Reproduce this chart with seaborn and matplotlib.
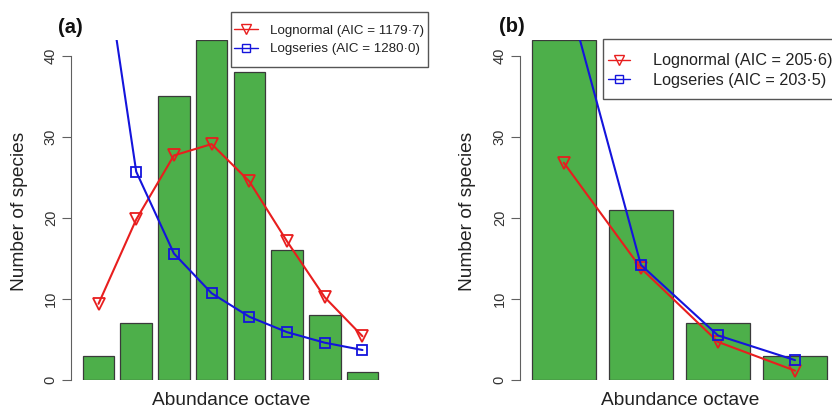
import numpy as np
import pandas as pd
import matplotlib
matplotlib.use("Agg")
import matplotlib.pyplot as plt
from matplotlib.lines import Line2D
from matplotlib.patches import Rectangle
import seaborn as sns

# ---------------- data ----------------
octaves_a = ["1", "2", "3", "4", "5", "6", "7", "8"]
observed_a = [3, 7, 35, 42, 38, 16, 8, 1]
lognormal_a = [9.4, 19.8, 27.7, 29.1, 24.5, 17.1, 10.2, 5.4]
logseries_a = [57.0, 25.7, 15.6, 10.7, 7.8, 5.9, 4.6, 3.7]

octaves_b = ["1", "2", "3", "4"]
observed_b = [42, 21, 7, 3]
lognormal_b = [26.8, 13.8, 4.7, 1.15]
logseries_b = [49.3, 14.2, 5.5, 2.45]

labels_a = ["Lognormal (AIC = 1179\u00b77)", "Logseries (AIC = 1280\u00b70)"]
labels_b = ["Lognormal (AIC = 205\u00b76)", "Logseries (AIC = 203\u00b75)"]
yticks = [0, 10, 20, 30, 40]

# ---------------- style ----------------
sns.set_style("ticks")
plt.rcParams["font.family"] = ["Liberation Sans", "DejaVu Sans"]

GREEN = "#4DAF4A"
RED = "#E81E1E"
BLUE = "#1414DC"
EDGE = "#3a3a3a"
AXC = "#606060"

W, H = 832, 409
fig = plt.figure(figsize=(W / 100, H / 100), dpi=100)
fig.patch.set_facecolor("white")

def fx(px):
    return px / W

def fy(py):
    return 1 - py / H

Y0, YTOP = 380.0, 39.5  # pixel rows for y=0 and y=42


def panel(left_px, right_px, first_center_px, pitch_px, octs, obs, ln, ls):
    ax = fig.add_axes([fx(left_px), fy(Y0), fx(right_px - left_px), (Y0 - YTOP) / H])
    df = pd.DataFrame({"octave": octs, "species": obs})
    sns.barplot(data=df, x="octave", y="species", color=GREEN, saturation=1,
                width=0.835, edgecolor=EDGE, linewidth=0.9, errorbar=None, ax=ax)
    pos = np.arange(len(octs))
    sns.lineplot(x=pos, y=ln, ax=ax, color=RED, linewidth=1.5, marker="v",
                 markersize=8, markerfacecolor="none", markeredgecolor=RED,
                 markeredgewidth=1.3, legend=False)
    sns.lineplot(x=pos, y=ls, ax=ax, color=BLUE, linewidth=1.5, marker="s",
                 markersize=6.5, markerfacecolor="none", markeredgecolor=BLUE,
                 markeredgewidth=1.3, legend=False)
    xl = (left_px - first_center_px) / pitch_px
    xr = (right_px - first_center_px) / pitch_px
    ax.set_xlim(xl, xr)
    ax.set_ylim(0, 42)
    ax.set_xticks([])
    ax.set_xlabel("")
    ax.set_ylabel("")
    ax.set_yticks(yticks)
    ax.set_yticklabels([str(t) for t in yticks], rotation=90, va="center",
                       fontsize=10.5, color="#333333")
    ax.tick_params(axis="y", length=6.5, width=0.8, color=AXC, pad=3)
    for s in ["top", "right", "bottom"]:
        ax.spines[s].set_visible(False)
    ax.spines["left"].set_bounds(0, 40)
    ax.spines["left"].set_color(AXC)
    ax.spines["left"].set_linewidth(0.8)
    ax.set_facecolor("none")
    return ax


ax_a = panel(71, 400, 98.5, 37.71, octaves_a, observed_a, lognormal_a, logseries_a)
ax_b = panel(520, 832, 563.8, 77.07, octaves_b, observed_b, lognormal_b, logseries_b)

# axis labels
for cx, ylx in [(231, 19.5), (680, 467.5)]:
    fig.text(fx(cx), fy(405.3), "Abundance octave", ha="center", va="baseline",
             fontsize=13.8, color="#222222")
    fig.text(fx(ylx), fy(211), "Number of species", ha="center", va="center",
             rotation=90, fontsize=13.8, color="#222222")

# panel tags
fig.text(fx(70.7), fy(27.5), "(a)", ha="center", va="center", fontsize=14.5,
         fontweight="bold", color="#111111")
fig.text(fx(512), fy(26.5), "(b)", ha="center", va="center", fontsize=14.5,
         fontweight="bold", color="#111111")


def handles():
    return [
        Line2D([], [], color=RED, lw=1.0, marker="v", markersize=7,
               markerfacecolor="none", markeredgecolor=RED, markeredgewidth=1.0),
        Line2D([], [], color=BLUE, lw=1.0, marker="s", markersize=5.5,
               markerfacecolor="none", markeredgecolor=BLUE, markeredgewidth=1.0),
    ]


# legend boxes
fig.patches.append(Rectangle((fx(230.7), fy(66.7)), fx(428 - 230.7), (66.7 - 11.7) / H,
                             transform=fig.transFigure, facecolor="white",
                             edgecolor="#555555", linewidth=1.0, zorder=5))
fig.patches.append(Rectangle((fx(603.3), fy(99)), fx(840 - 603.3), (99 - 39.3) / H,
                             transform=fig.transFigure, facecolor="white",
                             edgecolor="#555555", linewidth=1.0, zorder=5))

leg_a = fig.legend(handles(), labels_a, loc="upper left",
                   bbox_to_anchor=(fx(234), fy(24.5)), bbox_transform=fig.transFigure,
                   frameon=False, borderpad=0, borderaxespad=0, fontsize=9.6,
                   handlelength=1.82, handletextpad=0.89, labelspacing=0.45)
leg_a.set_zorder(6)
for t in leg_a.get_texts():
    t.set_color("#222222")

leg_b = fig.legend(handles(), labels_b, loc="upper left",
                   bbox_to_anchor=(fx(607.5), fy(53.5)), bbox_transform=fig.transFigure,
                   frameon=False, borderpad=0, borderaxespad=0, fontsize=11.7,
                   handlelength=1.36, handletextpad=1.44, labelspacing=0.25)
leg_b.set_zorder(6)
for t in leg_b.get_texts():
    t.set_color("#222222")

fig.savefig("out.png", dpi=100, facecolor="white")
